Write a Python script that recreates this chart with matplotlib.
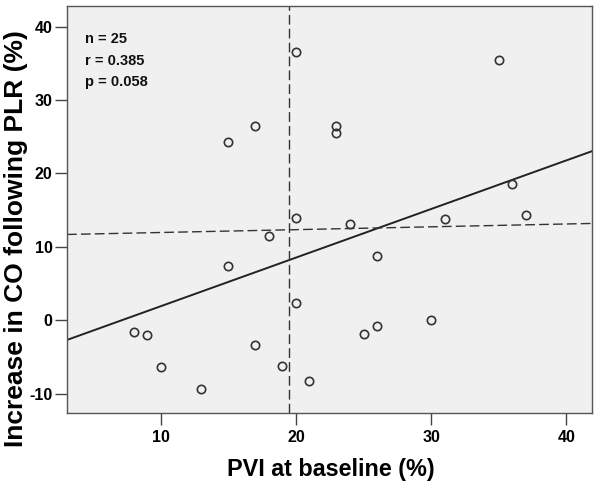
import numpy as np
import matplotlib
matplotlib.use("Agg")
import matplotlib.pyplot as plt

plt.rcParams["font.family"] = ["Liberation Sans", "DejaVu Sans"]
plt.rcParams["axes.unicode_minus"] = False

# PVI at baseline (%) and increase in CO following PLR (%)
pvi = [20, 15, 17, 20, 18, 35, 23, 23, 36, 37, 31, 24,
       15, 20, 8, 9, 10, 17, 13, 19, 26, 30, 26, 25, 21]
co_increase = [36.5, 24.3, 26.5, 14.0, 11.5, 35.5, 26.5, 25.5, 18.6, 14.4, 13.8, 13.1,
               7.4, 2.4, -1.6, -2.0, -6.3, -3.4, -9.4, -6.2, 8.7, 0.0, -0.8, -1.9, -8.3]

pvi_cutoff = 19.5
# dashed reference line (end values read at the axis edges)
ref_x = [3.07, 41.9]
ref_y = [11.7, 13.2]

stats_text = ["n = 25", "r = 0.385", "p = 0.058"]

xlim = (3.07, 41.9)
ylim = (-12.6, 42.8)

fig = plt.figure(figsize=(6, 4.87), dpi=100)
ax = fig.add_axes([0.1117, 0.152, 0.875, 0.8357])
ax.set_facecolor("#f0f0f0")

# linear fit
slope, intercept = np.polyfit(pvi, co_increase, 1)
fx = np.array(xlim)
ax.plot(fx, slope * fx + intercept, color="#222222", lw=1.4)

ax.plot(ref_x, ref_y, color="#333333", lw=1.0, dashes=(7, 3))
ax.axvline(pvi_cutoff, color="#333333", lw=1.0, dashes=(7, 3))

ax.plot(pvi, co_increase, "o", mfc="none", mec="#333333", mew=1.2, ms=6)

for i, t in enumerate(stats_text):
    ax.text(0.034, 0.919 - i * 0.053, t, transform=ax.transAxes,
            fontsize=10.5, fontweight="bold", va="center", ha="left", color="#111111")

ax.set_xlim(xlim)
ax.set_ylim(ylim)
ax.set_xticks([10, 20, 30, 40])
ax.set_yticks([-10, 0, 10, 20, 30, 40])
ax.tick_params(direction="out", length=8.5, width=1.0, color="#444444",
               labelsize=11.5)
ax.tick_params(axis="x", pad=4)
ax.tick_params(axis="y", pad=2)
for lab in ax.get_xticklabels() + ax.get_yticklabels():
    lab.set_fontweight("bold")

for sp in ax.spines.values():
    sp.set_color("#555555")
    sp.set_linewidth(1.0)

ax.set_xlabel("PVI at baseline (%)", fontsize=16.8, fontweight="bold",
              va="center", ha="center")
ax.set_ylabel("Increase in CO following PLR (%)", fontsize=19, fontweight="bold",
              va="center", ha="center")
ax.xaxis.set_label_coords(0.502, -0.140)
ax.yaxis.set_label_coords(-0.098, 0.429)

fig.savefig("out.png", dpi=100)
